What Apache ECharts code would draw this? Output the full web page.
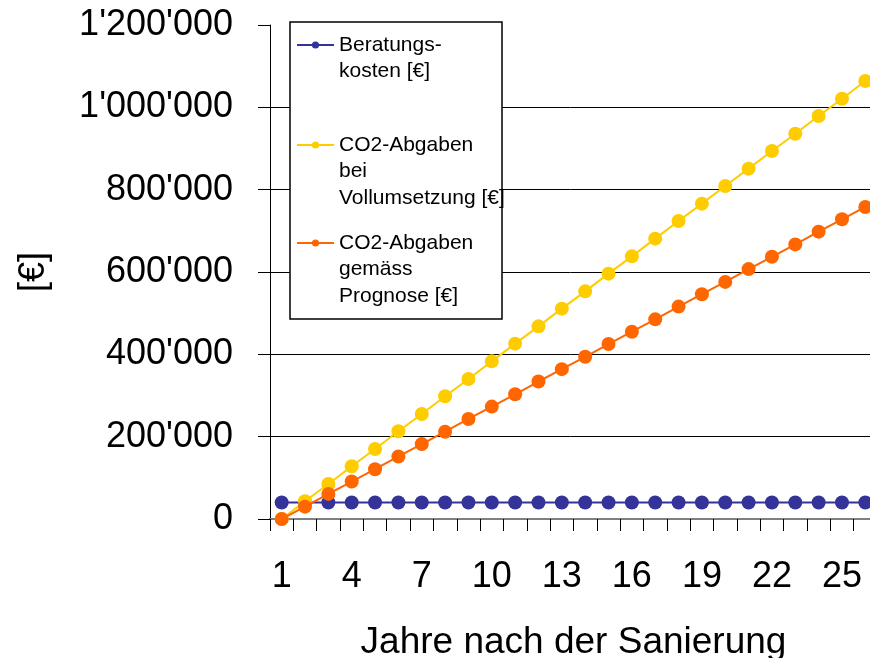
<!DOCTYPE html>
<html>
<head>
<meta charset="utf-8">
<script src="https://cdn.jsdelivr.net/npm/echarts@6/dist/echarts.min.js"></script>
<style>
html,body{margin:0;padding:0;background:#fff;}
#chart{width:870px;height:658px;}
</style>
</head>
<body>
<div id="chart"></div>
<script>
const categories = ['1','2','3','4','5','6','7','8','9','10','11','12','13','14','15','16','17','18','19','20','21','22','23','24','25','26'];
const seriesNames = ['Beratungskosten [€]', 'CO2-Abgaben bei Vollumsetzung [€]', 'CO2-Abgaben gemäss Prognose [€]'];
const legendLines = [
  ['Beratungs-', 'kosten [€]'],
  ['CO2-Abgaben', 'bei', 'Vollumsetzung [€]'],
  ['CO2-Abgaben', 'gemäss', 'Prognose [€]']
];
const beratungskosten = [40000,40000,40000,40000,40000,40000,40000,40000,40000,40000,40000,40000,40000,40000,40000,40000,40000,40000,40000,40000,40000,40000,40000,40000,40000,40000];
const vollumsetzung = [0,43000,85000,128000,170000,213000,255000,298000,340000,383000,426000,468000,511000,553000,596000,638000,681000,724000,766000,809000,851000,894000,936000,979000,1021000,1064000];
const prognose = [0,30000,61000,91000,121000,152000,182000,212000,243000,273000,303000,334000,364000,394000,425000,455000,485000,516000,546000,576000,607000,637000,667000,698000,728000,758000];
const colors = ['#333399', '#FFCC00', '#FF6600'];
const yMin = 0, yMax = 1200000, yStep = 200000;
const xAxisTitle = 'Jahre nach der Sanierung';
const yAxisTitle = '[€]';

function fmtThousands(v) {
  return String(v).replace(/\B(?=(\d{3})+(?!\d))/g, "'");
}

const FONT = '"Liberation Sans", Arial, sans-serif';
const chart = echarts.init(document.getElementById('chart'), null, {renderer: 'canvas'});

const dataSets = [beratungskosten, vollumsetzung, prognose];
const legendTops = [5.25, 78.75, 176.75];

const legends = seriesNames.map((nm, i) => ({
  show: true,
  orient: 'vertical',
  left: 296,
  top: legendTops[i],
  padding: 0,
  z: 20,
  itemWidth: 37,
  itemHeight: 9,
  data: [nm],
  selectedMode: false,
  formatter: function (name) {
    const idx = seriesNames.indexOf(name);
    const lines = legendLines[idx];
    const pre = new Array(lines.length - 1).fill('').join('\n');
    return (lines.length > 1 ? pre + '\n' : '') + lines.join('\n');
  },
  textStyle: {fontFamily: FONT, fontSize: 21, lineHeight: 26.5, color: '#000'}
}));

const option = {
  backgroundColor: '#fff',
  animation: false,
  color: colors,
  textStyle: {fontFamily: FONT},
  grid: {left: 270, top: 25, width: 607, height: 494, containLabel: false, outerBoundsMode: 'none'},
  legend: legends,
  graphic: [{
    type: 'rect',
    z: 15,
    shape: {x: 290, y: 22, width: 212, height: 297},
    style: {fill: '#fff', stroke: '#000', lineWidth: 1.5}
  }],
  xAxis: {
    type: 'category',
    data: categories,
    boundaryGap: true,
    name: xAxisTitle,
    nameLocation: 'middle',
    nameGap: 105,
    nameTextStyle: {fontFamily: FONT, fontSize: 37, color: '#000'},
    axisLine: {show: true, lineStyle: {color: '#808080', width: 2}},
    axisTick: {show: true, interval: 0, length: 12, alignWithLabel: false, lineStyle: {color: '#000', width: 1}},
    axisLabel: {interval: 2, margin: 40, fontFamily: FONT, fontSize: 36, color: '#000'},
    splitLine: {show: false}
  },
  yAxis: {
    type: 'value',
    min: yMin,
    max: yMax,
    interval: yStep,
    name: yAxisTitle,
    nameLocation: 'middle',
    nameRotate: 90,
    nameGap: 218,
    nameTextStyle: {fontFamily: FONT, fontSize: 36, color: '#000'},
    axisLine: {show: true, lineStyle: {color: '#000', width: 1}},
    axisTick: {show: true, length: 12, lineStyle: {color: '#000', width: 1}},
    axisLabel: {margin: 37, fontFamily: FONT, fontSize: 36, color: '#000', formatter: v => fmtThousands(v)},
    splitLine: {show: true, showMinLine: false, showMaxLine: false, lineStyle: {color: '#000', width: 1}}
  },
  series: seriesNames.map((nm, i) => ({
    name: nm,
    type: 'line',
    data: dataSets[i],
    symbol: 'circle',
    symbolSize: 14,
    showSymbol: true,
    clip: false,
    lineStyle: {width: 2, color: colors[i]},
    itemStyle: {color: colors[i]},
    z: 2 + i
  }))
};
chart.setOption(option);
</script>
</body>
</html>
